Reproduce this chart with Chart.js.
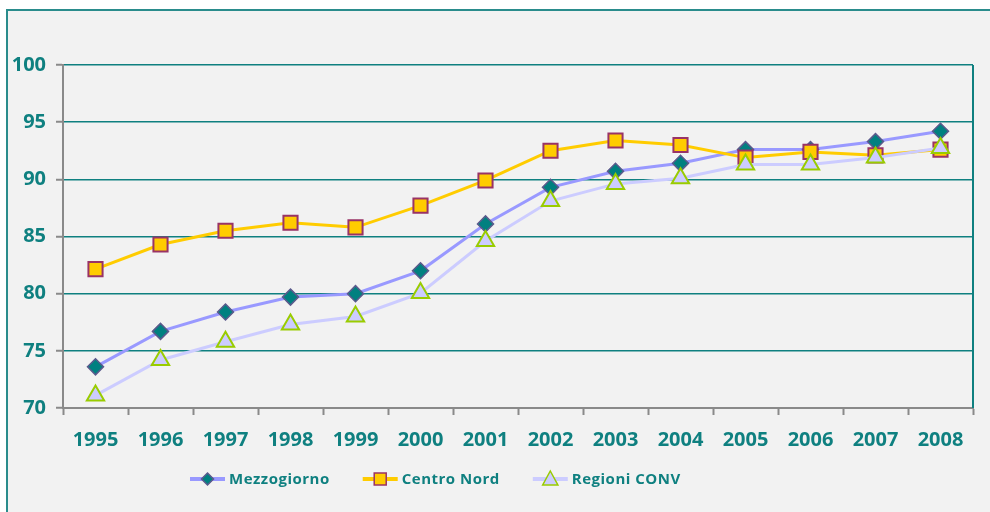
<!DOCTYPE html>
<html>
<head>
<meta charset="utf-8">
<script src="https://cdn.jsdelivr.net/npm/chart.js@4.4.1/dist/chart.umd.min.js"></script>
<style>
  html, body { margin: 0; padding: 0; background: #ffffff; }
  canvas { display: block; }
</style>
</head>
<body>
<canvas id="myChart" width="990" height="512"></canvas>
<script>
const years = ["1995", "1996", "1997", "1998", "1999", "2000", "2001", "2002", "2003", "2004", "2005", "2006", "2007", "2008"];
const mezzogiorno = [73.6, 76.7, 78.4, 79.7, 80.0, 82.0, 86.1, 89.3, 90.7, 91.4, 92.6, 92.6, 93.3, 94.2];
const centroNord = [82.15, 84.3, 85.5, 86.2, 85.8, 87.7, 89.9, 92.5, 93.4, 93.0, 91.9, 92.4, 92.1, 92.6];
const regioniConv = [71.1, 74.2, 75.8, 77.3, 78.0, 80.05, 84.6, 88.1, 89.6, 90.1, 91.3, 91.3, 91.9, 92.75];
const yTicks = [70, 75, 80, 85, 90, 95, 100];

const TEAL = "#0f8080";
const AXIS_GRAY = "#8a8a8a";
const FONT = "'Open Sans', 'DejaVu Sans', sans-serif";

// background + outer frame
const framePlugin = {
    id: "frame",
    beforeDraw(chart) {
        const ctx = chart.ctx;
        ctx.save();
        ctx.fillStyle = "#ffffff";
        ctx.fillRect(0, 0, chart.width, chart.height);
        ctx.fillStyle = "#f2f2f2";
        ctx.fillRect(6, 9, chart.width, chart.height);
        ctx.strokeStyle = "#2a8c8c";
        ctx.lineWidth = 2;
        ctx.beginPath();
        ctx.moveTo(7, chart.height);
        ctx.lineTo(7, 10);
        ctx.lineTo(chart.width, 10);
        ctx.stroke();
        ctx.restore();
    },
    afterDatasetsDraw(chart) {
        // right border of plot area
        const a = chart.chartArea;
        const ctx = chart.ctx;
        ctx.save();
        ctx.strokeStyle = TEAL;
        ctx.lineWidth = 2;
        ctx.beginPath();
        ctx.moveTo(a.right, a.top);
        ctx.lineTo(a.right, a.bottom);
        ctx.stroke();
        ctx.restore();
    }
};

function drawMarker(ctx, style, x, y, r, fill, stroke, bw) {
    ctx.beginPath();
    if (style === "rectRot") {
        ctx.moveTo(x, y - r);
        ctx.lineTo(x + r, y);
        ctx.lineTo(x, y + r);
        ctx.lineTo(x - r, y);
    } else if (style === "rect") {
        ctx.rect(x - r, y - r, 2 * r, 2 * r);
    } else {
        ctx.moveTo(x, y - r);
        ctx.lineTo(x + r * 0.95, y + r * 0.75);
        ctx.lineTo(x - r * 0.95, y + r * 0.75);
    }
    ctx.closePath();
    ctx.fillStyle = fill;
    ctx.fill();
    ctx.strokeStyle = stroke;
    ctx.lineWidth = bw;
    ctx.stroke();
}

// legend with line + marker samples
const legendPlugin = {
    id: "lineLegend",
    afterDraw(chart) {
        const ctx = chart.ctx;
        const y = 479;
        let x = 190;
        const sizes = { rectRot: 6, rect: 6, triangle: 8 };
        ctx.save();
        ctx.font = "bold 15px " + FONT;
        ctx.letterSpacing = "0.5px";
        ctx.textBaseline = "middle";
        chart.data.datasets.forEach(ds => {
            ctx.strokeStyle = ds.borderColor;
            ctx.lineWidth = 4;
            ctx.beginPath();
            ctx.moveTo(x, y);
            ctx.lineTo(x + 35, y);
            ctx.stroke();
            drawMarker(ctx, ds.pointStyle, x + 17.5, y, sizes[ds.pointStyle],
                ds.pointBackgroundColor, ds.pointBorderColor, 1.5);
            ctx.fillStyle = TEAL;
            ctx.fillText(ds.label, x + 39, y + 1);
            x += 39 + ctx.measureText(ds.label).width + 33;
        });
        ctx.restore();
    }
};

const ctx = document.getElementById("myChart");

new Chart(ctx, {
    type: "line",
    data: {
        labels: years,
        datasets: [{
            label: "Mezzogiorno",
            data: mezzogiorno,
            borderColor: "#9999ff",
            borderWidth: 3,
            pointStyle: "rectRot",
            pointRadius: 8,
            pointBackgroundColor: "#008080",
            pointBorderColor: "#5a5a8c",
            pointBorderWidth: 1.5,
            order: 3
        }, {
            label: "Centro Nord",
            data: centroNord,
            borderColor: "#ffcc00",
            borderWidth: 3,
            pointStyle: "rect",
            pointRadius: 10,
            pointBackgroundColor: "#ffcc00",
            pointBorderColor: "#993366",
            pointBorderWidth: 2,
            order: 2
        }, {
            label: "Regioni CONV",
            data: regioniConv,
            borderColor: "#ccccff",
            borderWidth: 3,
            pointStyle: "triangle",
            pointRadius: 10,
            pointBackgroundColor: "#ccccff",
            pointBorderColor: "#99cc00",
            pointBorderWidth: 2,
            order: 1
        }]
    },
    options: {
        responsive: false,
        animation: false,
        layout: { padding: { top: 65, right: 17, left: 0, bottom: 0 } },
        plugins: {
            legend: { display: false },
            tooltip: { enabled: false }
        },
        scales: {
            x: {
                offset: true,
                grid: {
                    offset: true,
                    drawOnChartArea: false,
                    tickLength: 7,
                    tickColor: AXIS_GRAY,
                    tickWidth: 2
                },
                border: { color: AXIS_GRAY, width: 2 },
                ticks: {
                    color: TEAL,
                    font: { family: FONT, size: 20, weight: "bold" },
                    padding: 13,
                    maxRotation: 0
                },
                afterFit(scale) { scale.height = 104; }
            },
            y: {
                min: 70,
                max: 100,
                afterBuildTicks(scale) {
                    scale.ticks = yTicks.map(v => ({ value: v }));
                },
                grid: {
                    color: TEAL,
                    lineWidth: 1.5,
                    tickLength: 7,
                    tickColor: AXIS_GRAY,
                    tickWidth: 2
                },
                border: { color: AXIS_GRAY, width: 2 },
                ticks: {
                    color: TEAL,
                    font: { family: FONT, size: 20, weight: "bold" },
                    padding: 10
                },
                afterFit(scale) { scale.width = 63; }
            }
        }
    },
    plugins: [framePlugin, legendPlugin]
});
</script>
</body>
</html>
